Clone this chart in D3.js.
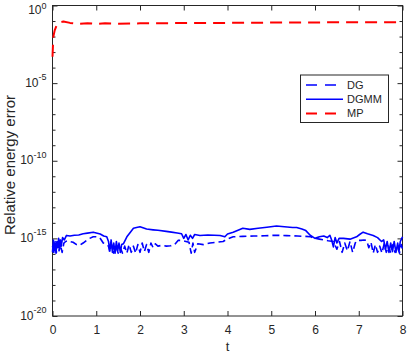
<!DOCTYPE html>
<html>
<head>
<meta charset="utf-8">
<script src="https://cdn.jsdelivr.net/npm/d3@7"></script>
<style>
  body { margin: 0; background: #fff; }
  svg { display: block; font-family: "Liberation Sans", Arial, sans-serif; }
  .axis path, .axis line { stroke: #262626; }
  .axis text { fill: #262626; font-size: 12px; }
</style>
</head>
<body>
<div id="chart"></div>
<script>
// values are stored as log10 of the relative energy error
const dgT = [0, 0.03, 0.06, 0.09, 0.12, 0.15, 0.18, 0.22, 0.26, 0.3, 0.35, 0.4, 0.47, 0.55, 0.62, 0.7, 0.78, 0.85, 0.93, 1.0, 1.08, 1.16, 1.22, 1.28,
  1.31, 1.35, 1.4, 1.45, 1.5, 1.55, 1.6, 1.65, 1.7, 1.75, 1.8, 1.85, 1.9, 1.95, 2.0, 2.05, 2.1, 2.15, 2.2, 2.25, 2.3, 2.35, 2.41,
  2.5, 2.6, 2.7, 2.79, 2.87, 2.95, 3.05, 3.12, 3.17, 3.21, 3.25, 3.32, 3.45, 3.6, 3.75, 3.9, 3.98, 4.13, 4.35, 4.6, 4.85, 5.1, 5.35,
  5.6, 5.79, 5.9, 6.0, 6.1, 6.2, 6.3, 6.42, 6.5, 6.56, 6.62, 6.68, 6.74, 6.8, 6.86, 6.92, 6.96, 7.05, 7.12, 7.18,
  7.23, 7.28, 7.33, 7.38, 7.43, 7.48, 7.53, 7.58, 7.63, 7.68, 7.73, 7.78, 7.83, 7.88, 7.93, 7.97, 8.0];
const dgLog = [-15.5, -15.9, -15.2, -15.9, -15.3, -15.8, -15.4, -15.9, -15.3, -15.2, -15.15, -15.2, -15.25, -15.4, -15.45, -15.3, -15.13, -15.0, -14.9, -14.9, -14.95, -15.3, -15.35, -15.5,
  -15.9, -15.4, -15.95, -15.5, -15.95, -15.6, -15.95, -15.5, -15.95, -15.4, -15.9, -15.5, -15.95, -15.4, -15.9, -15.3, -15.85, -15.4, -15.9, -15.3, -15.6, -15.35, -15.5,
  -15.45, -15.5, -15.48, -15.4, -15.13, -15.13, -15.2, -15.25, -15.95, -15.3, -15.9, -15.35, -15.4, -15.3, -15.25, -15.2, -15.06, -14.9, -14.87, -14.85, -14.83, -14.8, -14.82,
  -14.85, -14.87, -14.9, -15.0, -15.05, -15.1, -15.15, -15.2, -15.7, -15.2, -15.9, -15.3, -15.8, -15.2, -15.9, -15.3, -15.13, -15.13, -15.1, -15.13,
  -15.6, -15.25, -15.95, -15.4, -15.9, -15.5, -15.95, -15.35, -15.9, -15.5, -15.95, -15.4, -15.9, -15.5, -15.95, -15.4, -15.7];

const dgmmT = [0, 0.02, 0.04, 0.06, 0.08, 0.1, 0.12, 0.14, 0.16, 0.18, 0.2, 0.23, 0.27, 0.32, 0.4, 0.5, 0.6, 0.7, 0.8, 0.93, 1.0, 1.09, 1.17, 1.24,
  1.28, 1.31, 1.34, 1.37, 1.4, 1.43, 1.46, 1.49, 1.52, 1.55, 1.58, 1.62, 1.7, 1.78, 1.85, 1.92, 2.0, 2.15, 2.3, 2.41, 2.6, 2.72, 2.85,
  2.95, 3.0, 3.05, 3.1, 3.15, 3.2, 3.25, 3.37, 3.55, 3.7, 3.83, 3.94, 4.0, 4.13, 4.35, 4.51, 4.7, 4.9, 5.12, 5.3, 5.49, 5.58, 5.7,
  5.79, 5.89, 6.0, 6.1, 6.2, 6.28, 6.34, 6.38, 6.42, 6.46, 6.5, 6.55, 6.65, 6.8, 6.95, 7.02, 7.1, 7.2, 7.33, 7.43, 7.52,
  7.57, 7.61, 7.65, 7.69, 7.73, 7.77, 7.81, 7.85, 7.89, 7.92, 7.95, 8.0];
const dgmmLog = [-15.9, -15.1, -15.8, -15.3, -15.95, -15.2, -15.6, -15.0, -15.7, -15.1, -15.5, -14.95, -15.1, -14.81, -14.85, -14.8, -14.78, -14.7, -14.66, -14.6, -14.65, -14.72, -14.85, -14.9,
  -15.2, -15.8, -15.1, -15.9, -15.3, -15.95, -15.2, -15.8, -15.3, -15.9, -15.4, -15.35, -14.9, -14.6, -14.35, -14.3, -14.25, -14.4, -14.45, -14.48, -14.55, -14.6, -14.65,
  -14.7, -15.0, -14.75, -15.1, -14.8, -15.0, -14.75, -14.81, -14.78, -14.8, -14.81, -14.9, -14.72, -14.6, -14.35, -14.42, -14.35, -14.28, -14.2, -14.25, -14.3, -14.3, -14.4,
  -14.5, -14.8, -15.0, -14.9, -14.85, -14.95, -14.8, -15.1, -15.55, -14.95, -15.3, -15.0, -15.0, -15.05, -14.9, -14.75, -14.6, -14.7, -14.81, -14.95, -15.2,
  -15.1, -15.7, -15.2, -15.9, -15.3, -15.85, -15.2, -15.9, -15.3, -15.8, -15.2, -14.9];

const mpT = [0, 0.01, 0.02, 0.05, 0.1, 0.15, 0.25, 0.4, 0.6, 0.8, 1.0, 1.2, 1.5, 2, 2.5, 3, 3.5, 4, 4.5, 5, 5.5, 6, 6.5, 7, 7.5, 8];
const mpLog = [-3.3, -2.6, -2.0, -1.6, -1.25, -1.1, -1.03, -1.12, -1.18, -1.15, -1.18, -1.15, -1.17, -1.15, -1.14, -1.13, -1.12, -1.12, -1.11, -1.1, -1.09, -1.09, -1.08, -1.08, -1.08, -1.07];

const xTicks = [0, 1, 2, 3, 4, 5, 6, 7, 8];
const yMajorExp = [0, -5, -10, -15, -20];
const legendNames = ["DG", "DGMM", "MP"];

const width = 407, height = 353;
const margins = { top: 5.5, bottom: 37, left: 52.5, right: 4.5 };

const svg = d3.select("#chart").append("svg")
  .attr("width", width)
  .attr("height", height);

const x = d3.scaleLinear().domain([0, 8]).range([margins.left, width - margins.right]);
const y = d3.scaleLog().domain([1e-20, 1]).range([height - margins.bottom, margins.top]);

const allDecades = d3.range(-20, 1).map(e => Math.pow(10, e));
const majorVals = yMajorExp.map(e => Math.pow(10, e));
const minorVals = allDecades.filter(v => !majorVals.includes(v));

// bottom axis (ticks inward)
svg.append("g")
  .attr("class", "axis x-axis")
  .attr("transform", `translate(0,${y.range()[0]})`)
  .call(d3.axisBottom(x).tickValues(xTicks).tickSize(-5).tickPadding(9).tickFormat(d3.format("d")))
  .call(g => g.select(".domain").remove());

// top axis ticks
svg.append("g")
  .attr("class", "axis")
  .attr("transform", `translate(0,${margins.top})`)
  .call(d3.axisTop(x).tickValues(xTicks).tickSize(-5).tickFormat(""))
  .call(g => g.select(".domain").remove());

// left axis: major ticks with 10^n labels
const yAxisG = svg.append("g")
  .attr("class", "axis y-axis")
  .attr("transform", `translate(${margins.left},0)`)
  .call(d3.axisLeft(y).tickValues(majorVals).tickSize(-5).tickPadding(6).tickFormat(""))
  .call(g => g.select(".domain").remove());

yAxisG.selectAll(".tick text")
  .attr("dy", d => d === 1 ? "0.7em" : "0.25em")
  .each(function(d) {
    const t = d3.select(this);
    t.append("tspan").text("10");
    t.append("tspan")
      .attr("dy", d === 1 ? "-0.55em" : "-0.75em")
      .attr("font-size", "9px")
      .text(Math.round(Math.log10(d)));
  });

svg.append("g")
  .attr("class", "axis")
  .attr("transform", `translate(${margins.left},0)`)
  .call(d3.axisLeft(y).tickValues(minorVals).tickSize(-3).tickFormat(""))
  .call(g => g.select(".domain").remove());

// right axis ticks
svg.append("g")
  .attr("class", "axis")
  .attr("transform", `translate(${width - margins.right},0)`)
  .call(d3.axisRight(y).tickValues(majorVals).tickSize(-5).tickFormat(""))
  .call(g => g.select(".domain").remove());
svg.append("g")
  .attr("class", "axis")
  .attr("transform", `translate(${width - margins.right},0)`)
  .call(d3.axisRight(y).tickValues(minorVals).tickSize(-3).tickFormat(""))
  .call(g => g.select(".domain").remove());

// plot box
svg.append("rect")
  .attr("x", x.range()[0])
  .attr("y", y.range()[1])
  .attr("width", x.range()[1] - x.range()[0])
  .attr("height", y.range()[0] - y.range()[1])
  .attr("fill", "none")
  .attr("stroke", "#262626")
  .attr("stroke-width", 1);

// axis labels
svg.append("text")
  .attr("x", (x.range()[0] + x.range()[1]) / 2)
  .attr("y", 351)
  .attr("text-anchor", "middle")
  .attr("font-size", "13px")
  .attr("fill", "#262626")
  .text("t");

svg.append("text")
  .attr("transform", "translate(14.5,165) rotate(-90)")
  .attr("text-anchor", "middle")
  .attr("font-size", "15px")
  .attr("fill", "#262626")
  .text("Relative energy error");

// lines
const series = [
  { name: "DG", t: dgT, v: dgLog, color: "#0000ff", dash: "7,4", width: 1.6 },
  { name: "DGMM", t: dgmmT, v: dgmmLog, color: "#0000ff", dash: null, width: 1.6 },
  { name: "MP", t: mpT, v: mpLog, color: "#ff0000", dash: "12,7", width: 2 }
];

const line = d3.line()
  .x(d => x(d[0]))
  .y(d => y(Math.pow(10, d[1])));

const plot = svg.append("g");
series.forEach(s => {
  plot.append("path")
    .datum(s.t.map((t, i) => [t, s.v[i]]))
    .attr("fill", "none")
    .attr("stroke", s.color)
    .attr("stroke-width", s.width)
    .attr("stroke-dasharray", s.dash)
    .attr("stroke-linejoin", "round")
    .attr("d", line);
});

// legend
const legend = svg.append("g").attr("transform", "translate(300.5,75)");
legend.append("rect")
  .attr("width", 88)
  .attr("height", 47.5)
  .attr("fill", "#fff")
  .attr("stroke", "#262626")
  .attr("stroke-width", 1);

const legendDash = ["11,8", null, "11,8"];
series.forEach((s, i) => {
  const row = legend.append("g").attr("transform", `translate(0,${10 + i * 14.2})`);
  row.append("line")
    .attr("x1", 5.5).attr("x2", 42.5)
    .attr("stroke", s.color)
    .attr("stroke-width", s.width)
    .attr("stroke-dasharray", legendDash[i]);
  row.append("text")
    .attr("x", 46.5)
    .attr("dy", "0.35em")
    .attr("font-size", "11px")
    .attr("fill", "#262626")
    .text(legendNames[i]);
});
</script>
</body>
</html>
